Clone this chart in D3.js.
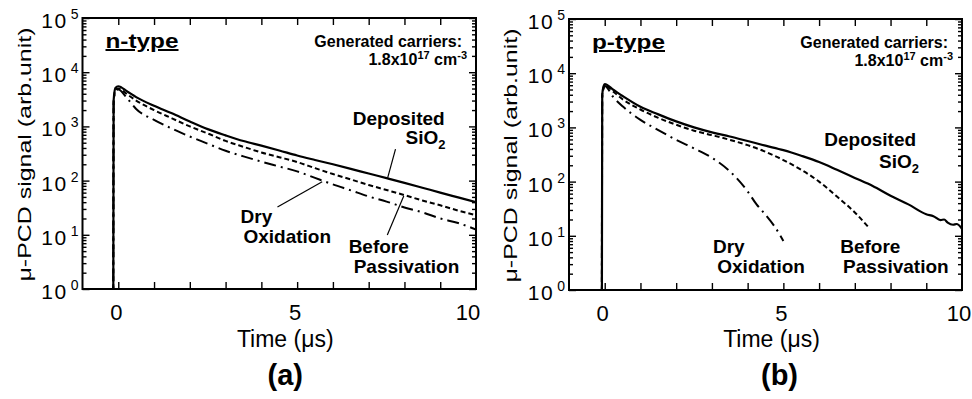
<!DOCTYPE html>
<html><head><meta charset="utf-8">
<script src="https://cdn.jsdelivr.net/npm/d3@7"></script>
<style>
body{margin:0;background:#fff}
svg{display:block}
text{font-family:"Liberation Sans",Arial,sans-serif;fill:#000}
</style>
</head><body>
<svg id="c" width="972" height="399"></svg>
<script>
// ---------- data ----------
const xDomain = [-1, 10];
const yDomain = [1, 1e5];
const xTickValues = [0,1,2,3,4,5,6,7,8,9,10];
const xTickLabels = [0, 5, 10];
const yExponents = [0,1,2,3,4,5];
const seriesNames = ["Deposited SiO2", "Before Passivation", "Dry Oxidation"];

// n-type (a)
const nTime      = [-0.14,-0.13,-0.08,0,0.25,0.5,1,1.5,2,2.5,3,3.5,4,4.5,5,5.5,6,6.5,7,7.5,8,8.5,9,9.5,10];
const nDeposited = [0.5,3000,5100,5500,4400,3470,2400,1740,1230,890,684,537,442,360,290,240,200,165,135,111,91,74,60,49,40];
const nBefore    = [0.5,2800,4700,5000,3900,3000,2000,1410,1000,740,540,420,330,270,220,170,132,105,83,67,54,43,35,28,23];
const nDry       = [0.5,2600,4500,4800,3300,2100,1320,910,650,480,355,280,224,182,148,112,85,66,51,41,32,26,20,16.5,12.5];

// p-type (b)
const pTimeDeposited = [-0.08,-0.07,-0.03,0,0.25,0.5,1,1.5,2,2.5,3,3.5,4,4.5,5,5.5,6,6.5,7,7.5,8,8.5,9,9.2,9.4,9.5,9.6,9.75,9.85,10];
const pDeposited     = [0.5,4000,5800,6300,4900,3800,2400,1740,1290,1000,810,680,560,460,380,300,230,165,117,83,55,38,25,23,19.5,20,17.5,16,16.5,13.5];
const pTimeBefore    = [-0.08,-0.07,-0.03,0,0.25,0.5,1,1.5,2,2.5,3,3.5,4,4.5,5,5.5,6,6.5,7,7.4];
const pBefore        = [0.5,3800,5500,6000,4500,3300,2140,1500,1120,870,720,590,470,355,250,165,100,53,27,14];
const pTimeDry       = [-0.08,-0.07,-0.03,0,0.25,0.5,1,1.5,2,2.5,3,3.5,4,4.25,4.5,4.75,4.9,5.0];
const pDry           = [0.5,3600,5300,5800,3550,2450,1380,890,590,410,275,155,66,38,24.5,15,10.5,8];

// annotation anchors in data units [time, signal]
const nAnnot = [
  {text:"Deposited", at:[7.84, 1080], anchor:"middle"},
  {text:"SiO", sub:"2", at:[8.03, 470], anchor:"start"},
  {text:"Dry", at:[3.42, 16.5], anchor:"start"},
  {text:"Oxidation", at:[3.50, 7.2], anchor:"start"},
  {text:"Before", at:[6.44, 4.6], anchor:"start"},
  {text:"Passivation", at:[6.58, 2.0], anchor:"start"}
];
const nLeaders = [
  [[7.75, 380], [7.53, 112]],
  [[4.45, 32.6], [5.70, 95]],
  [[7.52, 9.9], [7.98, 52]]
];
const pAnnot = [
  {text:"Deposited", at:[7.43, 445], anchor:"middle"},
  {text:"SiO", sub:"2", at:[7.68, 182], anchor:"start"},
  {text:"Dry", at:[3.03, 4.85], anchor:"start"},
  {text:"Oxidation", at:[3.15, 2.07], anchor:"start"},
  {text:"Before", at:[6.59, 4.85], anchor:"start"},
  {text:"Passivation", at:[6.67, 2.07], anchor:"start"}
];
const pLeaders = [];

// ---------- layout / style ----------
const styles = {
  "Deposited SiO2":     {w:2.2, dash:null},
  "Before Passivation": {w:2.0, dash:"5,3"},
  "Dry Oxidation":      {w:2.0, dash:"12,5,2,5"}
};
const panels = [
  {key:"n", x0:82.5, x1:476, y0:18, y1:289, type:"n-type", tag:"(a)", tagShift:6, lastLabelShift:-8,
   series:[[nTime,nDeposited],[nTime,nBefore],[nTime,nDry]], annot:nAnnot, leaders:nLeaders},
  {key:"p", x0:569, x1:962, y0:19, y1:290, type:"p-type", tag:"(b)", tagShift:14, lastLabelShift:-3,
   series:[[pTimeDeposited,pDeposited],[pTimeBefore,pBefore],[pTimeDry,pDry]], annot:pAnnot, leaders:pLeaders}
];

const svg = d3.select("#c");
svg.append("rect").attr("width",972).attr("height",399).attr("fill","#fff");
const defs = svg.append("defs");

panels.forEach(p => {
  const x = d3.scaleLinear().domain(xDomain).range([p.x0, p.x1]);
  const y = d3.scaleLog().domain(yDomain).range([p.y1, p.y0]);
  const g = svg.append("g");
  const cid = "clip-" + p.key;
  defs.append("clipPath").attr("id", cid).append("rect")
    .attr("x", p.x0).attr("y", p.y0).attr("width", p.x1 - p.x0).attr("height", p.y1 - p.y0);

  // curves
  const line = d3.line().x(d => x(d[0])).y(d => y(d[1])).curve(d3.curveMonotoneX);
  p.series.forEach((s, i) => {
    const st = styles[seriesNames[i]];
    g.append("path")
      .attr("clip-path", `url(#${cid})`)
      .attr("d", line(d3.zip(s[0], s[1])))
      .attr("fill", "none").attr("stroke", "#000")
      .attr("stroke-width", st.w)
      .attr("stroke-dasharray", st.dash)
      .attr("stroke-linejoin", "round");
  });

  // axes ticks (inward)
  const minor = [];
  yExponents.slice(0, -1).forEach(e => { for (let m = 2; m <= 9; m++) minor.push(m * Math.pow(10, e)); });
  const major = yExponents.map(e => Math.pow(10, e));
  const axStyle = sel => { sel.select(".domain").remove(); sel.selectAll("line").attr("stroke","#000").attr("stroke-width",1.4); sel.selectAll("text").remove(); };
  g.append("g").attr("transform", `translate(0,${p.y1})`).call(d3.axisBottom(x).tickValues(xTickValues.slice(0,-1)).tickSize(-7)).call(axStyle);
  g.append("g").attr("transform", `translate(0,${p.y0})`).call(d3.axisTop(x).tickValues(xTickValues.slice(0,-1)).tickSize(-7)).call(axStyle);
  g.append("g").attr("transform", `translate(${p.x0},0)`).call(d3.axisLeft(y).tickValues(major).tickSize(-7)).call(axStyle);
  g.append("g").attr("transform", `translate(${p.x0},0)`).call(d3.axisLeft(y).tickValues(minor).tickSize(-4)).call(axStyle);
  g.append("g").attr("transform", `translate(${p.x1},0)`).call(d3.axisRight(y).tickValues(major).tickSize(-7)).call(axStyle);
  g.append("g").attr("transform", `translate(${p.x1},0)`).call(d3.axisRight(y).tickValues(minor).tickSize(-4)).call(axStyle);

  // frame
  g.append("rect").attr("x", p.x0).attr("y", p.y0).attr("width", p.x1 - p.x0).attr("height", p.y1 - p.y0)
    .attr("fill", "none").attr("stroke", "#000").attr("stroke-width", 2);

  // y tick labels 10^k
  yExponents.forEach(e => {
    const t = g.append("text").attr("x", p.x0 - 4).attr("y", y(Math.pow(10, e)) + 10)
      .attr("text-anchor", "end").style("font-size", "21px").style("letter-spacing", "1.5px");
    t.append("tspan").text("10");
    t.append("tspan").attr("dx", 3).attr("dy", -9).style("font-size", "14px").style("letter-spacing","0px").text(String(e));
  });

  // x tick labels
  xTickLabels.forEach((v, i) => {
    const shift = (i === xTickLabels.length - 1) ? p.lastLabelShift : -2;
    g.append("text").attr("x", x(v) + shift).attr("y", p.y1 + 31)
      .attr("text-anchor", "middle").style("font-size", "22px").text(String(v));
  });

  const cx = (p.x0 + p.x1) / 2;
  // x title
  g.append("text").attr("x", cx + 6).attr("y", 347).attr("text-anchor", "middle")
    .style("font-size", "23px").text("Time (\u03bcs)");
  // panel tag
  g.append("text").attr("x", cx + p.tagShift).attr("y", 385).attr("text-anchor", "middle")
    .style("font-size", "29px").style("font-weight", "bold").text(p.tag);
  // y title
  const cy = (p.y0 + p.y1) / 2 + 1;
  g.append("text").attr("transform", `translate(${p.x0 - 52},${cy}) rotate(-90)`)
    .attr("text-anchor", "middle").style("font-size", "17.5px")
    .attr("textLength", 254).attr("lengthAdjust", "spacingAndGlyphs")
    .text("\u03bc-PCD signal (arb.unit)");

  // type label
  g.append("text").attr("x", p.x0 + 23).attr("y", p.y0 + 30)
    .style("font-size", "20px").style("font-weight", "bold").style("text-decoration", "underline")
    .attr("textLength", 73).attr("lengthAdjust", "spacingAndGlyphs").text(p.type);

  // generated carriers
  g.append("text").attr("x", p.x1 - 14).attr("y", p.y0 + 29).attr("text-anchor", "end")
    .style("font-size", "16px").style("font-weight", "bold").text("Generated carriers:");
  const c2 = g.append("text").attr("x", p.x1 - 9).attr("y", p.y0 + 47).attr("text-anchor", "end")
    .style("font-size", "16px").style("font-weight", "bold");
  c2.append("tspan").text("1.8x10");
  c2.append("tspan").attr("dy", -6).style("font-size", "11px").text("17");
  c2.append("tspan").attr("dy", 6).text(" cm");
  c2.append("tspan").attr("dy", -6).style("font-size", "11px").text("-3");

  // curve annotations
  p.annot.forEach(a => {
    const t = g.append("text").attr("x", x(a.at[0])).attr("y", y(a.at[1]))
      .attr("text-anchor", a.anchor).style("font-size", "19px").style("font-weight", "bold");
    t.append("tspan").text(a.text);
    if (a.sub) t.append("tspan").attr("dy", 5).style("font-size", "13px").text(a.sub);
  });
  p.leaders.forEach(l => {
    g.append("line").attr("x1", x(l[0][0])).attr("y1", y(l[0][1]))
      .attr("x2", x(l[1][0])).attr("y2", y(l[1][1]))
      .attr("stroke", "#000").attr("stroke-width", 1.2);
  });
});
</script>
</body></html>
